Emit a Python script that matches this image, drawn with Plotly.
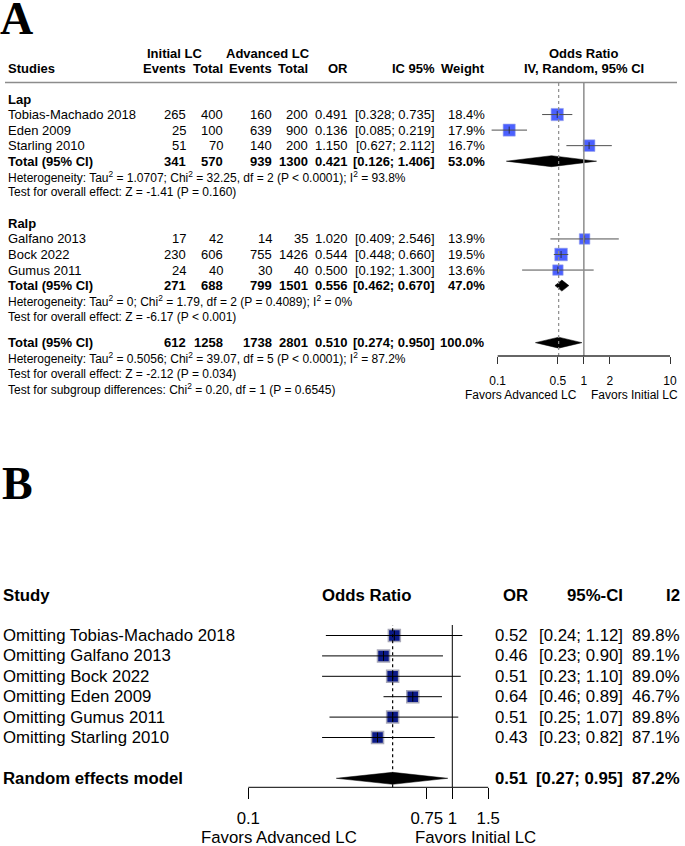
import math
import plotly.graph_objects as go

W, H = 685, 846
SANS = "Liberation Sans, Arial, sans-serif"
SERIF = "Liberation Serif, Times New Roman, serif"

# ---------------- Panel A data ----------------
lap_study = ["Tobias-Machado 2018", "Eden 2009", "Starling 2010"]
lap_ev_init = [265, 25, 51]
lap_tot_init = [400, 100, 70]
lap_ev_adv = [160, 639, 140]
lap_tot_adv = [200, 900, 200]
lap_or = [0.491, 0.136, 1.150]
lap_lo = [0.328, 0.085, 0.627]
lap_hi = [0.735, 0.219, 2.112]
lap_w = [18.4, 17.9, 16.7]

ralp_study = ["Galfano 2013", "Bock 2022", "Gumus 2011"]
ralp_ev_init = [17, 230, 24]
ralp_tot_init = [42, 606, 40]
ralp_ev_adv = [14, 755, 30]
ralp_tot_adv = [35, 1426, 40]
ralp_or = [1.020, 0.544, 0.500]
ralp_lo = [0.409, 0.448, 0.192]
ralp_hi = [2.546, 0.660, 1.300]
ralp_w = [13.9, 19.5, 13.6]

# totals: Lap, Ralp, Overall
tot_ev_init = [341, 271, 612]
tot_tot_init = [570, 688, 1258]
tot_ev_adv = [939, 799, 1738]
tot_tot_adv = [1300, 1501, 2801]
tot_or = [0.421, 0.556, 0.510]
tot_lo = [0.126, 0.462, 0.274]
tot_hi = [1.406, 0.670, 0.950]
tot_w = [53.0, 47.0, 100.0]
het_tau2 = ["1.0707", "0", "0.5056"]
het_chi2 = ["32.25", "1.79", "39.07"]
het_df = [2, 2, 5]
het_p = ["P &lt; 0.0001", "P = 0.4089", "P &lt; 0.0001"]
het_i2 = ["93.8%", "0%", "87.2%"]
eff_z = ["-1.41", "-6.17", "-2.12"]
eff_p = ["P = 0.160", "P &lt; 0.001", "P = 0.034"]
subgrp_chi2 = "0.20"
subgrp_df = 1
subgrp_p = "0.6545"

ticks_A = [0.1, 0.5, 1, 2, 10]
ticklabels_A = ["0.1", "0.5", "1", "2", "10"]

# ---------------- Panel B data ----------------
loo_study = ["Omitting Tobias-Machado 2018", "Omitting Galfano 2013", "Omitting Bock 2022",
             "Omitting Eden 2009", "Omitting Gumus 2011", "Omitting Starling 2010"]
loo_or = [0.52, 0.46, 0.51, 0.64, 0.51, 0.43]
loo_lo = [0.24, 0.23, 0.23, 0.46, 0.25, 0.23]
loo_hi = [1.12, 0.90, 1.10, 0.89, 1.07, 0.82]
loo_i2 = [89.8, 89.1, 89.0, 46.7, 89.8, 87.1]
re_or, re_lo, re_hi, re_i2 = 0.51, 0.27, 0.95, 87.2

ticks_B = [0.1, 0.75, 1, 1.5]
ticklabels_B = ["0.1", "0.75", "1", "1.5"]

# ---------------- layout geometry (pixels) ----------------
A_X1, A_DEC = 583.85, 86.15       # pixel of OR=1, pixels per decade
A_TOP, A_BOT = 83.0, 356.0
A_ROW0, A_ROWH = 99.0, 15.55
B_X1, B_DEC = 452.3, 204.0
B_TOP, B_BOT = 625.0, 787.3
B_ROW0, B_ROWH = 635.5, 20.4
FA = 13.0      # panel A table text
FS = 12.0      # panel A footnotes / axis
FB = 16.8      # panel B text


def rowA(i):
    return A_ROW0 + i * A_ROWH


def rowB(i):
    return B_ROW0 + i * B_ROWH


ann = []


def txt(x, y, s, anchor="left", size=FA, bold=False, family=SANS, color="black"):
    if bold:
        s = "<b>" + s + "</b>"
    ann.append(dict(x=x / W, y=1 - y / H, xref="paper", yref="paper", text=s,
                    showarrow=False, xanchor=anchor, yanchor="middle",
                    borderpad=0, borderwidth=0,
                    font=dict(family=family, size=size, color=color)))


fig = go.Figure()

# ---------------- Panel A text ----------------
txt(0, 18, "A", size=46, bold=True, family=SERIF)
colA = [186, 223, 272, 308, 348, 435, 485]
txt(174.5, 53, "Initial LC", "center", bold=True)
txt(267.5, 53, "Advanced LC", "center", bold=True)
txt(583.5, 53, "Odds Ratio", "center", bold=True)
txt(8, 68, "Studies", bold=True)
for x, h in zip(colA, ["Events", "Total", "Events", "Total", "OR", "IC 95%", "Weight"]):
    txt(x, 68, h, "right", bold=True)
txt(584, 68, "IV, Random, 95% CI", "center", bold=True)


def study_rows(names, e1, t1, e2, t2, orv, lo, hi, w, start):
    for k in range(len(names)):
        y = rowA(start + k)
        txt(8, y, names[k])
        vals = [str(e1[k]), str(t1[k]), str(e2[k]), str(t2[k]), "%.3f" % orv[k],
                "[%.3f; %.3f]" % (lo[k], hi[k]), "%.1f%%" % w[k]]
        for x, v in zip(colA, vals):
            txt(x, y, v, "right")


def total_rows(g, y):
    txt(8, y, "Total (95% CI)", bold=True)
    vals = [str(tot_ev_init[g]), str(tot_tot_init[g]), str(tot_ev_adv[g]), str(tot_tot_adv[g]),
            "%.3f" % tot_or[g], "[%.3f; %.3f]" % (tot_lo[g], tot_hi[g]), "%.1f%%" % tot_w[g]]
    for x, v in zip(colA, vals):
        txt(x, y, v, "right", bold=True)
    txt(8, y + A_ROWH,
        "Heterogeneity: Tau<sup>2</sup> = %s; Chi<sup>2</sup> = %s, df = %d (%s); I<sup>2</sup> = %s"
        % (het_tau2[g], het_chi2[g], het_df[g], het_p[g], het_i2[g]), size=FS)
    txt(8, y + 2 * A_ROWH, "Test for overall effect: Z = %s (%s)" % (eff_z[g], eff_p[g]), size=FS)


txt(8, rowA(0), "Lap", bold=True)
study_rows(lap_study, lap_ev_init, lap_tot_init, lap_ev_adv, lap_tot_adv, lap_or, lap_lo, lap_hi, lap_w, 1)
total_rows(0, rowA(4))
txt(8, rowA(8), "Ralp", bold=True)
study_rows(ralp_study, ralp_ev_init, ralp_tot_init, ralp_ev_adv, ralp_tot_adv, ralp_or, ralp_lo, ralp_hi, ralp_w, 9)
total_rows(1, rowA(12))
OV = 15.67
total_rows(2, rowA(OV))
txt(8, rowA(OV + 3), "Test for subgroup differences: Chi<sup>2</sup> = %s, df = %d (P = %s)"
    % (subgrp_chi2, subgrp_df, subgrp_p), size=FS)
txt(577, 395, "Favors Advanced LC", "right", size=FS)
txt(591, 395, "Favors Initial LC", "left", size=FS)

# ---------------- Panel A marks ----------------
a_or = lap_or + ralp_or
a_lo = lap_lo + ralp_lo
a_hi = lap_hi + ralp_hi
a_w = lap_w + ralp_w
a_y = [rowA(i) for i in (1, 2, 3, 9, 10, 11)]

fig.add_trace(go.Scatter(x=a_or, y=a_y, mode="markers", xaxis="x", yaxis="y",
                         marker=dict(symbol="square", size=[3.0 * math.sqrt(w) - 0.6 for w in a_w],
                                     color="rgb(0,30,255)", line=dict(color="#7080e0", width=0.6)),
                         hoverinfo="skip"))
cx, cy = [], []
for lo, hi, y in zip(a_lo, a_hi, a_y):
    cx += [lo, hi, None]
    cy += [y, y, None]
fig.add_trace(go.Scatter(x=cx, y=cy, mode="lines", xaxis="x", yaxis="y",
                         line=dict(color="#505050", width=1.0), hoverinfo="skip"))
fig.add_trace(go.Scatter(x=a_or, y=a_y, mode="markers", xaxis="x", yaxis="y",
                         marker=dict(symbol="line-ns", size=5, line=dict(color="#222", width=0.8)),
                         hoverinfo="skip"))
for g, i in zip(range(3), (4, 12, OV)):
    yc, hh = rowA(i), 5.5
    fig.add_trace(go.Scatter(x=[tot_lo[g], tot_or[g], tot_hi[g], tot_or[g], tot_lo[g]],
                             y=[yc, yc - hh, yc, yc + hh, yc], mode="lines", fill="toself",
                             fillcolor="black", line=dict(color="black", width=0.5),
                             xaxis="x", yaxis="y", hoverinfo="skip"))

# ---------------- Panel B text ----------------
txt(2, 483, "B", size=46, bold=True, family=SERIF)
colB = [528, 623, 680]
txt(3, 595, "Study", size=FB, bold=True)
txt(367.5, 595, "Odds Ratio", "center", size=FB, bold=True)
for x, h in zip(colB, ["OR", "95%-CI", "I2"]):
    txt(x, 595, h, "right", size=FB, bold=True)
for k in range(len(loo_study)):
    y = rowB(k)
    txt(3, y, loo_study[k], size=FB)
    vals = ["%.2f" % loo_or[k], "[%.2f; %.2f]" % (loo_lo[k], loo_hi[k]), "%.1f%%" % loo_i2[k]]
    for x, v in zip(colB, vals):
        txt(x, y, v, "right", size=FB)
yre = rowB(7)
txt(3, yre, "Random effects model", size=FB, bold=True)
for x, v in zip(colB, ["%.2f" % re_or, "[%.2f; %.2f]" % (re_lo, re_hi), "%.1f%%" % re_i2]):
    txt(x, yre, v, "right", size=FB, bold=True)
txt(278.5, 837, "Favors Advanced LC", "center", size=FB)
txt(475.5, 837, "Favors Initial LC", "center", size=FB)

# ---------------- Panel B marks ----------------
b_y = [rowB(k) for k in range(len(loo_study))]
fig.add_trace(go.Scatter(x=loo_or, y=b_y, mode="markers", xaxis="x2", yaxis="y2",
                         marker=dict(symbol="square", size=12, color="rgb(10,25,135)",
                                     line=dict(color="#a8a8b8", width=1.5)),
                         hoverinfo="skip"))
cx, cy = [], []
for lo, hi, y in zip(loo_lo, loo_hi, b_y):
    cx += [lo, hi, None]
    cy += [y, y, None]
fig.add_trace(go.Scatter(x=cx, y=cy, mode="lines", xaxis="x2", yaxis="y2",
                         line=dict(color="black", width=1), hoverinfo="skip"))
fig.add_trace(go.Scatter(x=loo_or, y=b_y, mode="markers", xaxis="x2", yaxis="y2",
                         marker=dict(symbol="line-ns", size=7, line=dict(color="black", width=1)),
                         hoverinfo="skip"))
hb = 6.0
fig.add_trace(go.Scatter(x=[re_lo, re_or, re_hi, re_or, re_lo],
                         y=[yre, yre - hb, yre, yre + hb, yre], mode="lines", fill="toself",
                         fillcolor="black", line=dict(color="black", width=0.5),
                         xaxis="x2", yaxis="y2", hoverinfo="skip"))

# ---------------- shapes (reference lines, axis baselines) ----------------
shapes = []
shapes.append(dict(type="line", xref="paper", yref="paper", x0=5 / W, x1=677 / W,
                   y0=1 - 82.5 / H, y1=1 - 82.5 / H, line=dict(color="#8c8c8c", width=1.5)))
shapes.append(dict(type="line", xref="x", yref="paper", x0=1, x1=1,
                   y0=1 - A_BOT / H, y1=1 - A_TOP / H, line=dict(color="#8c8c8c", width=1.5)))
shapes.append(dict(type="line", xref="x", yref="paper", x0=tot_or[2], x1=tot_or[2],
                   y0=1 - A_BOT / H, y1=1 - A_TOP / H, line=dict(color="#8c8c8c", width=1.2, dash="dot")))
shapes.append(dict(type="line", xref="x", yref="paper", x0=ticks_A[0], x1=ticks_A[-1],
                   y0=1 - A_BOT / H, y1=1 - A_BOT / H, line=dict(color="#333", width=1.3)))
shapes.append(dict(type="line", xref="x2", yref="paper", x0=1, x1=1,
                   y0=1 - B_BOT / H, y1=1 - B_TOP / H, line=dict(color="black", width=1)))
shapes.append(dict(type="line", xref="x2", yref="paper", x0=re_or, x1=re_or,
                   y0=1 - B_BOT / H, y1=1 - B_TOP / H, line=dict(color="black", width=1.2, dash="dot")))
shapes.append(dict(type="line", xref="x2", yref="paper", x0=ticks_B[0], x1=ticks_B[-1],
                   y0=1 - B_BOT / H, y1=1 - B_BOT / H, line=dict(color="black", width=1)))

fig.update_layout(
    width=W, height=H, margin=dict(l=0, r=0, t=0, b=0),
    paper_bgcolor="white", plot_bgcolor="rgba(0,0,0,0)",
    showlegend=False, annotations=ann, shapes=shapes,
    xaxis=dict(type="log", domain=[0, 1], anchor="y",
               range=[(0 - A_X1) / A_DEC, (W - A_X1) / A_DEC],
               tickmode="array", tickvals=ticks_A, ticktext=ticklabels_A,
               ticks="outside", ticklen=7, tickwidth=1.3, tickcolor="#333",
               ticklabelstandoff=7,
               showgrid=False, zeroline=False, showline=False, fixedrange=True,
               tickfont=dict(family=SANS, size=FS, color="black")),
    yaxis=dict(domain=[1 - A_BOT / H, 1 - A_TOP / H], range=[A_BOT, A_TOP],
               visible=False, fixedrange=True),
    xaxis2=dict(type="log", domain=[0, 1], anchor="y2",
                range=[(0 - B_X1) / B_DEC, (W - B_X1) / B_DEC],
                tickmode="array", tickvals=ticks_B, ticktext=ticklabels_B,
                ticks="outside", ticklen=11, tickwidth=1, tickcolor="black",
                ticklabelstandoff=5,
                showgrid=False, zeroline=False, showline=False, fixedrange=True,
                tickfont=dict(family=SANS, size=FB, color="black")),
    yaxis2=dict(domain=[1 - B_BOT / H, 1 - B_TOP / H], range=[B_BOT, B_TOP],
                visible=False, fixedrange=True),
)

fig.write_html("out.html", config={"displayModeBar": False},
               post_script="document.body.style.margin='0';document.body.style.overflow='hidden';")
